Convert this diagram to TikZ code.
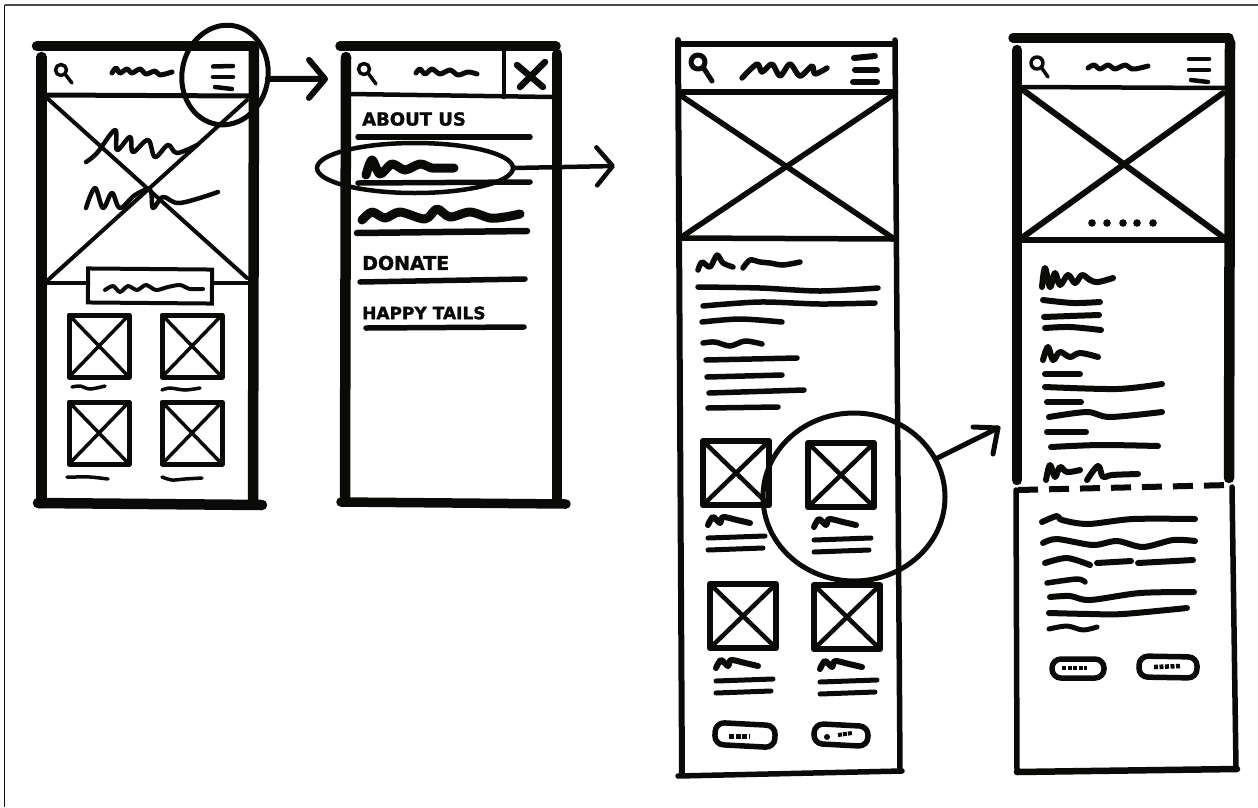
\documentclass[tikz,border=0pt]{standalone}
\usepackage{fontspec}
\usepackage{tikz}
\usetikzlibrary{
  arrows.meta,
  shapes.geometric
}
\newfontfamily\sketchfont{DejaVu Sans}[BoldFeatures={FakeBold=1.6}]
\definecolor{SketchInk}{HTML}{0A0A08}
\definecolor{FrameGray}{HTML}{4A4A4A}

\newcommand{\searchicon}[5]{%
  \draw[ink,line width=#5pt] (#1,#2) circle[radius=#3];
  \draw[ink,line width=#5pt] (#1+0.7*#3,#2+0.7*#3) -- #4;
}

\begin{document}
\begin{tikzpicture}[
  x=1pt,y=-1pt,
  ink/.style={draw=SketchInk,line cap=round,line join=round},
  scribble/.style={ink,line width=5pt},
  imgbox/.style={draw=SketchInk,line width=6.5pt,line join=round,inner sep=0pt,outer sep=0pt},
  smallbox/.style={imgbox,line width=5pt},
  crossline/.style={ink,line width=3.5pt},
  ring/.style={ellipse,draw=SketchInk,line width=5pt,inner sep=0pt,outer sep=0pt},
  pointer/.style={ink,line width=#1,-{Straight Barb[length=16pt,width=38pt,round]}},
  pill/.style={draw=SketchInk,line width=5.5pt,rounded corners=9pt,inner sep=0pt,outer sep=0pt},
  navlabel/.style={inner sep=0pt,anchor=west,text=SketchInk},
]
\useasboundingbox (0,0) rectangle (1258,807);
\draw[FrameGray,line width=1.5pt] (1258,5) -- (4.5,5);
\draw[SketchInk,line width=1.5pt] (4.5,5) -- (4.5,807);

% first phone, home
\draw[ink,line width=10.5pt] (37,46) -- (253,46);
\draw[ink,line width=10.5pt] (41.5,57) -- (41.5,503);
\draw[ink,line width=10.5pt] (254,48) -- (253,503);
\draw[ink,line width=10.5pt] (38,503) -- (262,505);
\draw[ink,line width=5pt] (46,95) -- (250,96);
\draw[crossline,line width=4pt] (47,98) -- (247,278);
\draw[crossline,line width=4pt] (247,100) -- (48,280);
\draw[crossline,line width=4pt] (46,283) -- (250,283);
\searchicon{61}{70}{5.5}{(72,83)}{3.5}
\draw[scribble] plot[smooth] coordinates {(112,73) (116,68) (120,73) (127,69) (132,73) (140,69) (146,74) (155,71) (160,75) (172,72)};
\draw[scribble,line width=4.5pt] (213,66.5) -- (233,66);
\draw[scribble,line width=4.5pt] (213,77) -- (233,77);
\draw[scribble,line width=4.5pt] (215,87) -- (232,89);
\draw[scribble,line width=4.5pt] plot[smooth,tension=0.6] coordinates {(86,162) (97,153) (115,130) (117,150) (130,137) (133,152) (148,140) (155,157) (168,145) (177,153) (197,145)};
\draw[scribble,line width=4.5pt] plot[smooth,tension=0.6] coordinates {(86,208) (95,188) (103,208) (112,193) (120,208) (135,195) (150,190) (153,208) (163,197) (180,203) (218,192)};
\node[draw=SketchInk,line width=4pt,fill=white,minimum width=124pt,minimum height=34pt,inner sep=0pt,rotate=-0.5] (herobtn) at (150,286) {};
\draw[scribble,line width=4pt] plot[smooth] coordinates {(105,290) (113,286) (120,292) (128,286) (137,290) (146,285) (156,290) (168,287) (180,285) (190,289) (203,289)};
\foreach \cname/\cx/\cy in {ba/99/346,bb/192/346,bc/99/433,bd/192/433}{
  \node[smallbox,minimum width=60pt,minimum height=62pt] (\cname) at (\cx,\cy) {};
  \draw[crossline] (\cname.north west) -- (\cname.south east);
  \draw[crossline] (\cname.north east) -- (\cname.south west);
}
\draw[scribble,line width=3.5pt] plot[smooth] coordinates {(72,387) (80,386) (90,389) (105,386)};
\draw[scribble,line width=3.5pt] plot[smooth] coordinates {(162,390) (170,388) (185,390) (200,388)};
\draw[scribble,line width=3.5pt] plot[smooth] coordinates {(67,477) (75,477) (90,477) (108,479)};
\draw[scribble,line width=3.5pt] plot[smooth] coordinates {(162,477) (172,480) (185,479) (202,478)};
\node[ring,minimum width=86pt,minimum height=100pt,rotate=-10] (menuring) at (225,75) {};
\coordinate (menuhead) at (328,79);
\draw[pointer=6pt] (menuring.5) -- (menuhead);

% second phone, open menu
\draw[ink,line width=9.5pt] (340,46) -- (556,46);
\draw[ink,line width=10.5pt] (346,57) -- (345,497);
\draw[ink,line width=10.5pt] (557,54) -- (557,500);
\draw[ink,line width=9.5pt] (341,502) -- (566,504);
\draw[ink,line width=4.5pt] (350,94) -- (552,97);
\draw[ink,line width=4.5pt] (504,50) -- (504,97);
\searchicon{364}{69}{5.5}{(376,84)}{3.5}
\draw[scribble] plot[smooth] coordinates {(416,73) (420,69) (425,74) (432,69) (440,74) (450,70) (458,75) (468,72) (477,74)};
\draw[ink,line width=6.5pt] (517,65) -- (543,87);
\draw[ink,line width=6.5pt] (545,62) -- (520,87);
\node[navlabel,font=\sketchfont\bfseries\fontsize{18}{18}\selectfont] (aboutlbl) at (362,119) {ABOUT US};
\draw[scribble,line width=5.5pt] (358,137) -- (530,137);
\draw[scribble,line width=9pt] plot[smooth] coordinates {(366,175) (372,160) (380,174) (392,164) (405,170) (420,164) (432,168) (444,168) (454,168)};
\draw[scribble,line width=5.5pt] (358,183) -- (530,182);
\draw[scribble,line width=9pt] plot[smooth] coordinates {(362,220) (372,212) (385,218) (400,212) (425,219) (437,209) (450,217) (470,212) (490,218) (505,217) (520,214)};
\draw[scribble,line width=6.5pt] (357,233) -- (527,231);
\node[navlabel,font=\sketchfont\bfseries\fontsize{19}{19}\selectfont] (donatelbl) at (362,263) {DONATE};
\draw[scribble,line width=5.5pt] (360,282) -- (525,279);
\node[navlabel,font=\sketchfont\bfseries\fontsize{17}{17}\selectfont] (happylbl) at (362,313) {HAPPY TAILS};
\draw[scribble,line width=5.5pt] (366,328) -- (524,327);
\node[ring,line width=4.5pt,minimum width=196pt,minimum height=50pt] (navring) at (415,168) {};
\coordinate (navhead) at (615,166);
\draw[pointer=4.5pt] (navring.east) -- (navhead);

% third phone, detail page
\draw[ink,line width=6pt] (678,40) -- (682,774);
\draw[ink,line width=5.5pt] (895,40) -- (900,770);
\draw[ink,line width=6pt] (678,44) -- (895,44);
\draw[ink,line width=6.5pt] (680,92) -- (895,92);
\draw[ink,line width=5.5pt] (678,776) -- (902,771);
\draw[ink,line width=5.5pt] (680,238) -- (893,239);
\draw[ink,line width=5.5pt] (680,95) -- (893,238);
\draw[ink,line width=5.5pt] (893,95) -- (680,238);
\searchicon{698}{62}{7}{(712,81)}{5}
\draw[scribble,line width=5.5pt] plot[smooth,tension=0.5] coordinates {(742,78) (757,64) (762,72) (772,64) (780,76) (790,64) (800,76) (812,66) (815,74) (827,68)};
\draw[scribble,line width=6pt] (854,58) -- (875,56);
\draw[scribble,line width=6pt] (855,70) -- (877,70);
\draw[scribble,line width=6pt] (853,82) -- (877,82);
\draw[scribble,line width=5.5pt] plot[smooth] coordinates {(698,270) (702,262) (710,267) (717,255) (723,263) (733,267)};
\draw[scribble,line width=5.5pt] plot[smooth] coordinates {(743,268) (750,260) (760,262) (770,263) (783,265) (800,262)};
\draw[scribble,line width=5.5pt] plot[smooth] coordinates {(698,287) (760,288) (820,291) (878,288)};
\draw[scribble,line width=5.5pt] plot[smooth] coordinates {(703,306) (760,302) (820,304) (875,303)};
\draw[scribble,line width=5.5pt] plot[smooth] coordinates {(702,322) (740,319) (782,322)};
\draw[scribble,line width=5.5pt] plot[smooth] coordinates {(703,343) (715,342) (730,346) (745,341) (762,344)};
\draw[scribble,line width=5.5pt] (706,360) -- (797,358);
\draw[scribble,line width=5.5pt] (707,377) -- (782,375);
\draw[scribble,line width=5.5pt] (709,393) -- (804,390);
\draw[scribble,line width=5.5pt] (708,408) -- (778,407);
\foreach \cname/\cx/\cy in {ca/736/473,cb/841/475,cc/743/616,cd/847/617}{
  \node[imgbox,minimum width=66pt,minimum height=64pt] (\cname) at (\cx,\cy) {};
  \draw[crossline,line width=4.5pt] (\cname.north west) -- (\cname.south east);
  \draw[crossline,line width=4.5pt] (\cname.north east) -- (\cname.south west);
}
\foreach \ox/\oy in {0/0,106/2,8/143,112/144}{
  \draw[scribble,line width=6pt] plot[smooth] coordinates {(708+\ox,525+\oy) (713+\ox,517+\oy) (720+\ox,523+\oy) (723+\ox,517+\oy) (737+\ox,520+\oy) (750+\ox,523+\oy)};
  \draw[scribble] (708+\ox,538+\oy) -- (765+\ox,536+\oy);
  \draw[scribble] (708+\ox,550+\oy) -- (763+\ox,548+\oy);
}
\node[pill,minimum width=60pt,minimum height=22pt,rotate=-3] (pa) at (745,735) {};
\node[pill,minimum width=54pt,minimum height=20pt,rotate=-3] (pb) at (841,735) {};
\draw[SketchInk,line width=5pt,dash pattern=on 5pt off 1.5pt] (729,736) -- (750,736);
\fill[SketchInk] (827,737) circle[radius=3];
\draw[SketchInk,line width=4pt,dash pattern=on 4pt off 1pt] (838,735) -- (852,733);
\node[ring,minimum width=182pt,minimum height=168pt] (zoomring) at (854,497) {};
\coordinate (zoomhead) at (998,428);
\draw[ink,line width=5pt] (zoomring.25) -- (zoomhead);
\draw[ink,line width=5pt] (973,427) -- (zoomhead) -- (993,454);

% fourth phone, long page
\draw[ink,line width=9.5pt] (1013,38) -- (1229,38);
\draw[ink,line width=10.5pt] (1017,50) -- (1017,480);
\draw[ink,line width=10.5pt] (1230,42) -- (1229,478);
\draw[ink,line width=5.5pt] (1016,490) -- (1017,772);
\draw[ink,line width=5.5pt] (1232,487) -- (1236,769);
\draw[ink,line width=6.5pt] (1017,772) -- (1237,769);
\draw[ink,line width=4.5pt] (1020,87) -- (1226,88);
\draw[ink,line width=6pt] (1023,90) -- (1223,237);
\draw[ink,line width=6pt] (1223,93) -- (1023,237);
\draw[ink,line width=6.5pt] (1020,240) -- (1226,240);
\searchicon{1037}{63}{6}{(1048,77)}{3.5}
\draw[scribble] plot[smooth] coordinates {(1088,68) (1094,65) (1100,69) (1108,65) (1115,69) (1125,65) (1132,69) (1140,68) (1148,66)};
\draw[scribble,line width=4.5pt] (1189,59) -- (1209,59);
\draw[scribble,line width=4.5pt] (1189,70) -- (1209,70);
\draw[scribble,line width=4.5pt] (1191,80) -- (1208,82);
\foreach \dx in {1092,1107,1123,1137,1153}{
  \fill[SketchInk] (\dx,223) circle[radius=3.8];
}
\draw[scribble,line width=6pt] plot[smooth,tension=0.6] coordinates {(1042,287) (1045,268) (1050,287) (1055,273) (1060,285) (1068,275) (1075,283) (1082,275) (1090,280) (1098,282) (1113,278)};
\draw[scribble,line width=6pt] plot[smooth] coordinates {(1043,300) (1073,303) (1100,302)};
\draw[scribble,line width=6pt] plot[smooth] coordinates {(1044,317) (1070,316) (1099,315)};
\draw[scribble,line width=6pt] plot[smooth] coordinates {(1045,328) (1070,327) (1101,330)};
\draw[scribble,line width=6pt] plot[smooth,tension=0.6] coordinates {(1043,360) (1048,347) (1053,360) (1060,352) (1070,357) (1080,353) (1098,357)};
\draw[scribble,line width=6pt] (1045,374) -- (1080,374);
\draw[scribble,line width=6pt] plot[smooth] coordinates {(1045,387) (1117,389) (1162,384)};
\draw[scribble,line width=6pt] (1047,402) -- (1081,402);
\draw[scribble,line width=6pt] plot[smooth] coordinates {(1049,417) (1087,412) (1110,417) (1162,412)};
\draw[scribble,line width=6pt] (1047,432) -- (1086,432);
\draw[scribble,line width=6pt] plot[smooth] coordinates {(1051,447) (1100,445) (1158,446)};
\draw[scribble,line width=6pt] plot[smooth,tension=0.6] coordinates {(1046,480) (1050,465) (1055,477) (1060,467) (1067,472) (1080,470)};
\draw[scribble,line width=6pt] plot[smooth,tension=0.6] coordinates {(1087,480) (1098,466) (1103,477) (1112,475) (1138,474)};
\draw[SketchInk,line width=6pt,dash pattern=on 20pt off 11pt] (1018,490) -- (1230,485);
\draw[scribble,line width=6pt] plot[smooth] coordinates {(1042,522) (1057,516) (1062,520) (1088,524) (1133,519) (1195,519)};
\draw[scribble,line width=6pt] plot[smooth] coordinates {(1043,543) (1057,539) (1093,545) (1117,541) (1143,547) (1173,540) (1195,541)};
\draw[scribble,line width=6pt] plot[smooth] coordinates {(1045,563) (1067,558) (1090,565)};
\draw[scribble,line width=6pt] (1097,563) -- (1131,561);
\draw[scribble,line width=6pt] (1138,563) -- (1193,560);
\draw[scribble,line width=5.5pt] plot[smooth] coordinates {(1047,583) (1077,579) (1085,582)};
\draw[scribble,line width=6pt] plot[smooth] coordinates {(1050,597) (1070,596) (1090,600) (1140,593) (1194,592)};
\draw[scribble,line width=6pt] plot[smooth] coordinates {(1049,613) (1090,614) (1123,614) (1187,608)};
\draw[scribble,line width=5pt] plot[smooth] coordinates {(1049,629) (1067,626) (1083,630) (1097,627)};
\node[pill,minimum width=52pt,minimum height=19pt] (pc) at (1078,668.5) {};
\node[pill,minimum width=58pt,minimum height=21pt,rotate=-1] (pd) at (1168,667) {};
\draw[SketchInk,line width=4.5pt,dash pattern=on 4pt off 1.5pt] (1062,668) -- (1087,668);
\draw[SketchInk,line width=4.5pt,dash pattern=on 4pt off 1.5pt] (1154,667) -- (1180,666);
\end{tikzpicture}
\end{document}
